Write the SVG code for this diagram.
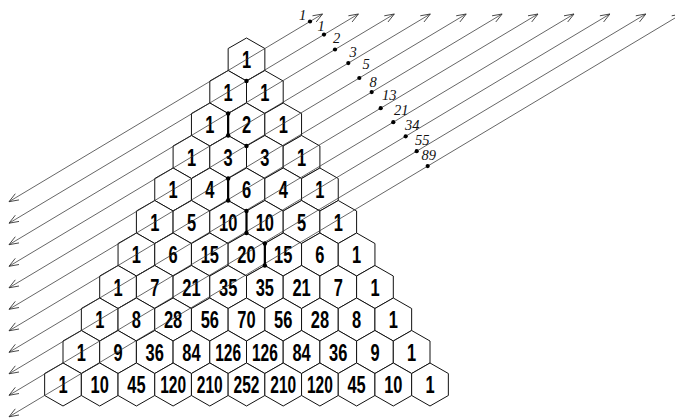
<svg xmlns="http://www.w3.org/2000/svg" xmlns:xlink="http://www.w3.org/1999/xlink" width="675" height="418" viewBox="0 0 675 418">
<style>
.hex{fill:#fff;stroke:#111;stroke-width:1}
.num{font-family:"Liberation Sans",Arial,sans-serif;font-weight:bold;font-size:23.5px;fill:#000;text-anchor:middle}
.diag{stroke:#333;stroke-width:0.75;fill:none;marker-start:url(#ah);marker-end:url(#ah)}
.dot{fill:#000}
.bold{stroke:#000;stroke-width:2.2}
.fib{font-family:"Liberation Serif","Times New Roman",serif;font-style:italic;font-size:14.5px;fill:#111}
</style>
<defs>
<path id="hex" class="hex" d="M0,-21.5 L18.35,-11 L18.35,11 L0,21.5 L-18.35,11 L-18.35,-11 Z"/>
<marker id="ah" viewBox="-11 -6 12 12" refX="0" refY="0" markerWidth="12" markerHeight="12" markerUnits="userSpaceOnUse" orient="auto-start-reverse">
<path d="M-9.5,-3.6 L0,0 L-9.5,3.6" fill="none" stroke="#333" stroke-width="0.8"/>
</marker>
</defs>
<rect width="675" height="418" fill="#fff"/>
<g id="nodes">
<g id="n0_0" transform="translate(246.5 59.5)"><use href="#hex"/><text class="num" transform="scale(0.7 1)" y="8.5">1</text></g>
<g id="n1_0" transform="translate(228.15 92)"><use href="#hex"/><text class="num" transform="scale(0.7 1)" y="8.5">1</text></g>
<g id="n1_1" transform="translate(264.85 92)"><use href="#hex"/><text class="num" transform="scale(0.7 1)" y="8.5">1</text></g>
<g id="n2_0" transform="translate(209.8 124.5)"><use href="#hex"/><text class="num" transform="scale(0.7 1)" y="8.5">1</text></g>
<g id="n2_1" transform="translate(246.5 124.5)"><use href="#hex"/><text class="num" transform="scale(0.7 1)" y="8.5">2</text></g>
<g id="n2_2" transform="translate(283.2 124.5)"><use href="#hex"/><text class="num" transform="scale(0.7 1)" y="8.5">1</text></g>
<g id="n3_0" transform="translate(191.45 157)"><use href="#hex"/><text class="num" transform="scale(0.7 1)" y="8.5">1</text></g>
<g id="n3_1" transform="translate(228.15 157)"><use href="#hex"/><text class="num" transform="scale(0.7 1)" y="8.5">3</text></g>
<g id="n3_2" transform="translate(264.85 157)"><use href="#hex"/><text class="num" transform="scale(0.7 1)" y="8.5">3</text></g>
<g id="n3_3" transform="translate(301.55 157)"><use href="#hex"/><text class="num" transform="scale(0.7 1)" y="8.5">1</text></g>
<g id="n4_0" transform="translate(173.1 189.5)"><use href="#hex"/><text class="num" transform="scale(0.7 1)" y="8.5">1</text></g>
<g id="n4_1" transform="translate(209.8 189.5)"><use href="#hex"/><text class="num" transform="scale(0.7 1)" y="8.5">4</text></g>
<g id="n4_2" transform="translate(246.5 189.5)"><use href="#hex"/><text class="num" transform="scale(0.7 1)" y="8.5">6</text></g>
<g id="n4_3" transform="translate(283.2 189.5)"><use href="#hex"/><text class="num" transform="scale(0.7 1)" y="8.5">4</text></g>
<g id="n4_4" transform="translate(319.9 189.5)"><use href="#hex"/><text class="num" transform="scale(0.7 1)" y="8.5">1</text></g>
<g id="n5_0" transform="translate(154.75 222)"><use href="#hex"/><text class="num" transform="scale(0.7 1)" y="8.5">1</text></g>
<g id="n5_1" transform="translate(191.45 222)"><use href="#hex"/><text class="num" transform="scale(0.7 1)" y="8.5">5</text></g>
<g id="n5_2" transform="translate(228.15 222)"><use href="#hex"/><text class="num" transform="scale(0.7 1)" y="8.5">10</text></g>
<g id="n5_3" transform="translate(264.85 222)"><use href="#hex"/><text class="num" transform="scale(0.7 1)" y="8.5">10</text></g>
<g id="n5_4" transform="translate(301.55 222)"><use href="#hex"/><text class="num" transform="scale(0.7 1)" y="8.5">5</text></g>
<g id="n5_5" transform="translate(338.25 222)"><use href="#hex"/><text class="num" transform="scale(0.7 1)" y="8.5">1</text></g>
<g id="n6_0" transform="translate(136.4 254.5)"><use href="#hex"/><text class="num" transform="scale(0.7 1)" y="8.5">1</text></g>
<g id="n6_1" transform="translate(173.1 254.5)"><use href="#hex"/><text class="num" transform="scale(0.7 1)" y="8.5">6</text></g>
<g id="n6_2" transform="translate(209.8 254.5)"><use href="#hex"/><text class="num" transform="scale(0.7 1)" y="8.5">15</text></g>
<g id="n6_3" transform="translate(246.5 254.5)"><use href="#hex"/><text class="num" transform="scale(0.7 1)" y="8.5">20</text></g>
<g id="n6_4" transform="translate(283.2 254.5)"><use href="#hex"/><text class="num" transform="scale(0.7 1)" y="8.5">15</text></g>
<g id="n6_5" transform="translate(319.9 254.5)"><use href="#hex"/><text class="num" transform="scale(0.7 1)" y="8.5">6</text></g>
<g id="n6_6" transform="translate(356.6 254.5)"><use href="#hex"/><text class="num" transform="scale(0.7 1)" y="8.5">1</text></g>
<g id="n7_0" transform="translate(118.05 287)"><use href="#hex"/><text class="num" transform="scale(0.7 1)" y="8.5">1</text></g>
<g id="n7_1" transform="translate(154.75 287)"><use href="#hex"/><text class="num" transform="scale(0.7 1)" y="8.5">7</text></g>
<g id="n7_2" transform="translate(191.45 287)"><use href="#hex"/><text class="num" transform="scale(0.7 1)" y="8.5">21</text></g>
<g id="n7_3" transform="translate(228.15 287)"><use href="#hex"/><text class="num" transform="scale(0.7 1)" y="8.5">35</text></g>
<g id="n7_4" transform="translate(264.85 287)"><use href="#hex"/><text class="num" transform="scale(0.7 1)" y="8.5">35</text></g>
<g id="n7_5" transform="translate(301.55 287)"><use href="#hex"/><text class="num" transform="scale(0.7 1)" y="8.5">21</text></g>
<g id="n7_6" transform="translate(338.25 287)"><use href="#hex"/><text class="num" transform="scale(0.7 1)" y="8.5">7</text></g>
<g id="n7_7" transform="translate(374.95 287)"><use href="#hex"/><text class="num" transform="scale(0.7 1)" y="8.5">1</text></g>
<g id="n8_0" transform="translate(99.7 319.5)"><use href="#hex"/><text class="num" transform="scale(0.7 1)" y="8.5">1</text></g>
<g id="n8_1" transform="translate(136.4 319.5)"><use href="#hex"/><text class="num" transform="scale(0.7 1)" y="8.5">8</text></g>
<g id="n8_2" transform="translate(173.1 319.5)"><use href="#hex"/><text class="num" transform="scale(0.7 1)" y="8.5">28</text></g>
<g id="n8_3" transform="translate(209.8 319.5)"><use href="#hex"/><text class="num" transform="scale(0.7 1)" y="8.5">56</text></g>
<g id="n8_4" transform="translate(246.5 319.5)"><use href="#hex"/><text class="num" transform="scale(0.7 1)" y="8.5">70</text></g>
<g id="n8_5" transform="translate(283.2 319.5)"><use href="#hex"/><text class="num" transform="scale(0.7 1)" y="8.5">56</text></g>
<g id="n8_6" transform="translate(319.9 319.5)"><use href="#hex"/><text class="num" transform="scale(0.7 1)" y="8.5">28</text></g>
<g id="n8_7" transform="translate(356.6 319.5)"><use href="#hex"/><text class="num" transform="scale(0.7 1)" y="8.5">8</text></g>
<g id="n8_8" transform="translate(393.3 319.5)"><use href="#hex"/><text class="num" transform="scale(0.7 1)" y="8.5">1</text></g>
<g id="n9_0" transform="translate(81.35 352)"><use href="#hex"/><text class="num" transform="scale(0.7 1)" y="8.5">1</text></g>
<g id="n9_1" transform="translate(118.05 352)"><use href="#hex"/><text class="num" transform="scale(0.7 1)" y="8.5">9</text></g>
<g id="n9_2" transform="translate(154.75 352)"><use href="#hex"/><text class="num" transform="scale(0.7 1)" y="8.5">36</text></g>
<g id="n9_3" transform="translate(191.45 352)"><use href="#hex"/><text class="num" transform="scale(0.7 1)" y="8.5">84</text></g>
<g id="n9_4" transform="translate(228.15 352)"><use href="#hex"/><text class="num" transform="scale(0.66 1)" y="8.5">126</text></g>
<g id="n9_5" transform="translate(264.85 352)"><use href="#hex"/><text class="num" transform="scale(0.66 1)" y="8.5">126</text></g>
<g id="n9_6" transform="translate(301.55 352)"><use href="#hex"/><text class="num" transform="scale(0.7 1)" y="8.5">84</text></g>
<g id="n9_7" transform="translate(338.25 352)"><use href="#hex"/><text class="num" transform="scale(0.7 1)" y="8.5">36</text></g>
<g id="n9_8" transform="translate(374.95 352)"><use href="#hex"/><text class="num" transform="scale(0.7 1)" y="8.5">9</text></g>
<g id="n9_9" transform="translate(411.65 352)"><use href="#hex"/><text class="num" transform="scale(0.7 1)" y="8.5">1</text></g>
<g id="n10_0" transform="translate(63 384.5)"><use href="#hex"/><text class="num" transform="scale(0.7 1)" y="8.5">1</text></g>
<g id="n10_1" transform="translate(99.7 384.5)"><use href="#hex"/><text class="num" transform="scale(0.7 1)" y="8.5">10</text></g>
<g id="n10_2" transform="translate(136.4 384.5)"><use href="#hex"/><text class="num" transform="scale(0.7 1)" y="8.5">45</text></g>
<g id="n10_3" transform="translate(173.1 384.5)"><use href="#hex"/><text class="num" transform="scale(0.66 1)" y="8.5">120</text></g>
<g id="n10_4" transform="translate(209.8 384.5)"><use href="#hex"/><text class="num" transform="scale(0.66 1)" y="8.5">210</text></g>
<g id="n10_5" transform="translate(246.5 384.5)"><use href="#hex"/><text class="num" transform="scale(0.66 1)" y="8.5">252</text></g>
<g id="n10_6" transform="translate(283.2 384.5)"><use href="#hex"/><text class="num" transform="scale(0.66 1)" y="8.5">210</text></g>
<g id="n10_7" transform="translate(319.9 384.5)"><use href="#hex"/><text class="num" transform="scale(0.66 1)" y="8.5">120</text></g>
<g id="n10_8" transform="translate(356.6 384.5)"><use href="#hex"/><text class="num" transform="scale(0.7 1)" y="8.5">45</text></g>
<g id="n10_9" transform="translate(393.3 384.5)"><use href="#hex"/><text class="num" transform="scale(0.7 1)" y="8.5">10</text></g>
<g id="n10_10" transform="translate(430 384.5)"><use href="#hex"/><text class="num" transform="scale(0.7 1)" y="8.5">1</text></g>
</g>
<g id="connectors">
<line class="diag" x1="9" y1="201.7" x2="322.5" y2="14"/>
<line class="diag" x1="9" y1="223.2" x2="358.4" y2="14"/>
<line class="diag" x1="9" y1="244.7" x2="394.3" y2="14"/>
<line class="diag" x1="9" y1="266.3" x2="430.3" y2="14"/>
<line class="diag" x1="9" y1="287.8" x2="466.2" y2="14"/>
<line class="diag" x1="9" y1="309.3" x2="502.1" y2="14"/>
<line class="diag" x1="9" y1="330.8" x2="538" y2="14"/>
<line class="diag" x1="9" y1="352.3" x2="574" y2="14"/>
<line class="diag" x1="9" y1="373.8" x2="609.9" y2="14"/>
<line class="diag" x1="9" y1="395.3" x2="645.8" y2="14"/>
<line class="diag" x1="9" y1="416.8" x2="681.7" y2="14"/>
<g id="edges-bold">
<line class="bold" x1="228.15" y1="113.5" x2="228.15" y2="135.5"/>
<line class="bold" x1="228.15" y1="178.5" x2="228.15" y2="200.5"/>
<line class="bold" x1="246.5" y1="211" x2="246.5" y2="233"/>
<line class="bold" x1="264.85" y1="243.5" x2="264.85" y2="265.5"/>
</g>
<g id="vertex-dots">
<circle class="dot" cx="246.5" cy="81" r="2.2"/>
<circle class="dot" cx="228.15" cy="113.5" r="2.2"/>
<circle class="dot" cx="228.15" cy="135.5" r="2.2"/>
<circle class="dot" cx="246.5" cy="146" r="2.2"/>
<circle class="dot" cx="228.15" cy="178.5" r="2.2"/>
<circle class="dot" cx="228.15" cy="200.5" r="2.2"/>
<circle class="dot" cx="246.5" cy="211" r="2.2"/>
<circle class="dot" cx="246.5" cy="233" r="2.2"/>
<circle class="dot" cx="264.85" cy="243.5" r="2.2"/>
<circle class="dot" cx="264.85" cy="265.5" r="2.2"/>
</g>
<g id="fib-dots">
<circle class="dot" cx="310" cy="21.5" r="2.1"/>
<circle class="dot" cx="324" cy="34.6" r="2.1"/>
<circle class="dot" cx="335" cy="49.5" r="2.1"/>
<circle class="dot" cx="348.3" cy="63.1" r="2.1"/>
<circle class="dot" cx="359.3" cy="78" r="2.1"/>
<circle class="dot" cx="371.7" cy="92.1" r="2.1"/>
<circle class="dot" cx="380.7" cy="108.2" r="2.1"/>
<circle class="dot" cx="393.3" cy="122.2" r="2.1"/>
<circle class="dot" cx="405.7" cy="136.3" r="2.1"/>
<circle class="dot" cx="416.7" cy="151.2" r="2.1"/>
<circle class="dot" cx="427.7" cy="166.1" r="2.1"/>
</g>
<g id="fib-labels">
<text class="fib" x="299" y="20">1</text>
<text class="fib" x="317.5" y="31">1</text>
<text class="fib" x="333" y="43">2</text>
<text class="fib" x="349.5" y="57">3</text>
<text class="fib" x="362.5" y="69">5</text>
<text class="fib" x="369.5" y="86.5">8</text>
<text class="fib" x="382" y="100">13</text>
<text class="fib" x="394" y="114.5">21</text>
<text class="fib" x="405" y="130">34</text>
<text class="fib" x="415" y="145">55</text>
<text class="fib" x="421.5" y="160">89</text>
</g>
</g>
</svg>
